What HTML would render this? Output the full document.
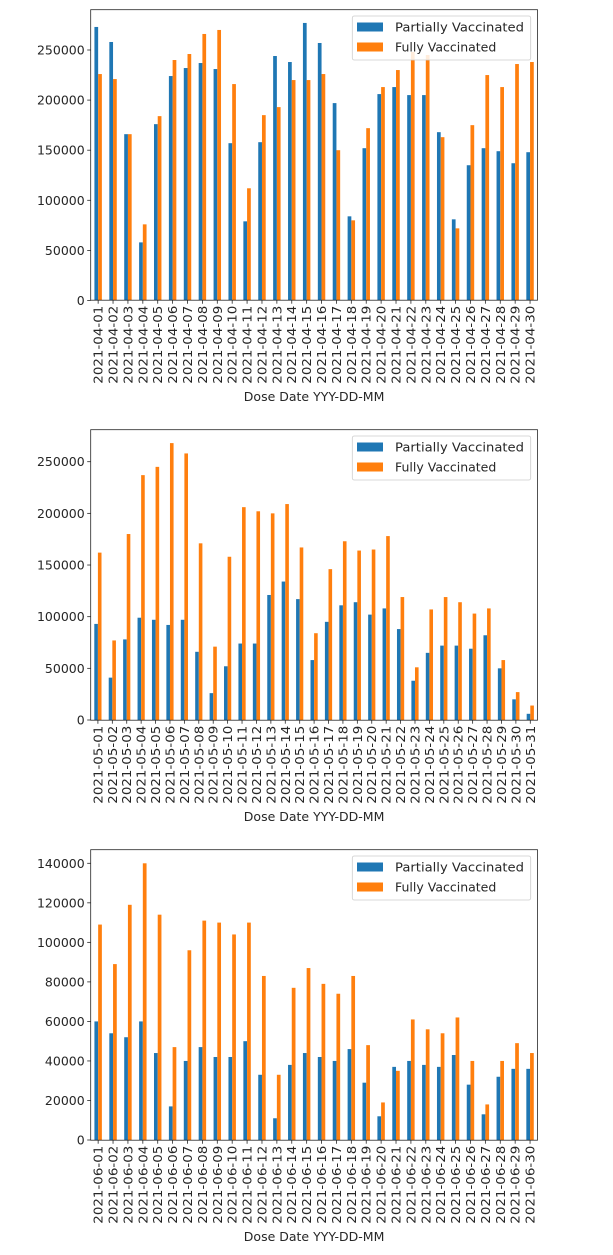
<!DOCTYPE html>
<html><head><meta charset="utf-8">
<style>
html,body{margin:0;padding:0;background:#fff;}
svg{display:block;}
text{font-family:"DejaVu Sans","Liberation Sans",sans-serif;fill:#262626;}
</style></head>
<body>
<svg id="chart" width="613" height="1255" xmlns="http://www.w3.org/2000/svg"></svg>
<script>
const aprDates = Array.from({length:30},(_,i)=>'2021-04-'+String(i+1).padStart(2,'0'));
const mayDates = Array.from({length:31},(_,i)=>'2021-05-'+String(i+1).padStart(2,'0'));
const junDates = Array.from({length:30},(_,i)=>'2021-06-'+String(i+1).padStart(2,'0'));
const aprPartial = [273000,258000,166000,58000,176000,224000,232000,237000,231000,157000,79000,158000,244000,238000,277000,257000,197000,84000,152000,206000,213000,205000,205000,168000,81000,135000,152000,149000,137000,148000];
const aprFully = [226000,221000,166000,76000,184000,240000,246000,266000,270000,216000,112000,185000,193000,220000,220000,226000,150000,80000,172000,213000,230000,248000,245000,163000,72000,175000,225000,213000,236000,238000];
const mayPartial = [93000,41000,78000,99000,97000,92000,97000,66000,26000,52000,74000,74000,121000,134000,117000,58000,95000,111000,114000,102000,108000,88000,38000,65000,72000,72000,69000,82000,50000,20000,6000];
const mayFully = [162000,77000,180000,237000,245000,268000,258000,171000,71000,158000,206000,202000,200000,209000,167000,84000,146000,173000,164000,165000,178000,119000,51000,107000,119000,114000,103000,108000,58000,27000,14000];
const junPartial = [60000,54000,52000,60000,44000,17000,40000,47000,42000,42000,50000,33000,11000,38000,44000,42000,40000,46000,29000,12000,37000,40000,38000,37000,43000,28000,13000,32000,36000,36000];
const junFully = [109000,89000,119000,140000,114000,47000,96000,111000,110000,104000,110000,83000,33000,77000,87000,79000,74000,83000,48000,19000,35000,61000,56000,54000,62000,40000,18000,40000,49000,44000];
const aprTicks = [0,50000,100000,150000,200000,250000];
const mayTicks = [0,50000,100000,150000,200000,250000];
const junTicks = [0,20000,40000,60000,80000,100000,120000,140000];

const NS='http://www.w3.org/2000/svg';
const svg=document.getElementById('chart');
function mk(tag,attrs,parent){const e=document.createElementNS(NS,tag);for(const k in attrs)e.setAttribute(k,attrs[k]);(parent||svg).appendChild(e);return e;}

function drawPanel(name,dates,partial,fully,ticks,top,y0,refVal,refY){
  const g=mk('g',{});
  
  
  const left=90.7,right=537.5,bottom=top+290.5;
  const yScale=v=>y0-(v/refVal)*(y0-refY);
  const n=dates.length, step=(right-left)/n;
  const xC=i=>left+step*(i+0.5);
  const bw=step*0.25;
  // ticks y
  ticks.forEach(t=>{
    const y=yScale(t);
    const tl=mk('line',{x1:left-3.5,x2:left,y1:y,y2:y,stroke:'#262626','stroke-width':0.8},g);
    
    
    const tx=mk('text',{x:left-6,y:y+4.5,'text-anchor':'end','font-size':'12.5'},g);
    tx.textContent=String(t);
    
    
  });
  // bars
  dates.forEach((d,i)=>{
    const x=xC(i);
    const b1=mk('rect',{x:x-bw,y:yScale(partial[i]),width:bw,height:y0-yScale(partial[i]),fill:'#1f77b4'},g);
    
    
    const b2=mk('rect',{x:x,y:yScale(fully[i]),width:bw,height:y0-yScale(fully[i]),fill:'#ff7f0e'},g);
    
    
    const tk=mk('line',{x1:x,x2:x,y1:bottom,y2:bottom+3.5,stroke:'#262626','stroke-width':0.8},g);
    
    
    const lx=x+4.5, ly=bottom+5.5;
    const lab=mk('text',{x:lx,y:ly,'text-anchor':'end','font-size':'12.5',textLength:78,lengthAdjust:'spacingAndGlyphs',transform:`rotate(-90 ${lx} ${ly})`},g);
    lab.textContent=d;
    
    
  });
  const fr=mk('rect',{x:left,y:top,width:right-left,height:bottom-top,fill:'none',stroke:'#262626','stroke-width':0.8},g);
  
  
  const xl=mk('text',{x:(left+right)/2,y:bottom+101,'text-anchor':'middle','font-size':'12.5'},g);
  xl.textContent='Dose Date YYY-DD-MM';
  
  
  // legend
  const lg=mk('g',{},g);
  
  
  mk('rect',{x:352.3,y:top+6.3,width:178.4,height:44,rx:2,fill:'#fff','fill-opacity':0.85,stroke:'#ccc','stroke-width':0.8},lg);
  [['Partially Vaccinated','#1f77b4'],['Fully Vaccinated','#ff7f0e']].forEach((e,k)=>{
    const yy=top+17.3+k*20;
    const p=mk('rect',{x:357,y:yy-4.5,width:26,height:9,fill:e[1]},lg);
    
    
    const t=mk('text',{x:395,y:yy+4.5,'font-size':'12.5'},lg);
    t.textContent=e[0];
    if(k===0){t.setAttribute('textLength',129);t.setAttribute('lengthAdjust','spacingAndGlyphs');}
    
    
  });
}
drawPanel('april-chart',aprDates,aprPartial,aprFully,aprTicks,9.7,300.5,250000,50);
drawPanel('may-chart',mayDates,mayPartial,mayFully,mayTicks,429.7,720,250000,461.7);
drawPanel('june-chart',junDates,junPartial,junFully,junTicks,849.7,1140,140000,863.3);
</script>
</body></html>
